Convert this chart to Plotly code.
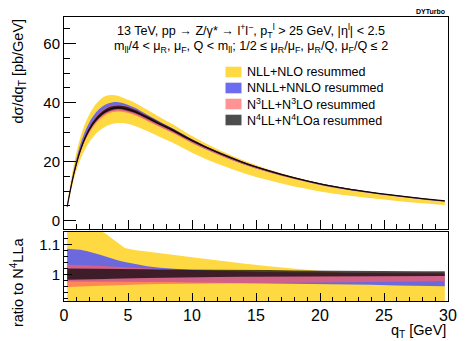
import plotly.graph_objects as go

# bin centres in q_T [GeV]
qt = [0.25, 0.75, 1.25, 1.75, 2.25, 2.75, 3.25, 3.75, 4.25, 4.75, 5.5, 6.5, 7.5, 8.5,
      10, 12, 14, 16, 18, 20, 22, 24, 26, 28, 29.75]

# N4LL+N4LOa central prediction [pb/GeV]
n4ll_central = [4.8, 15.5, 23.5, 29.0, 32.8, 35.4, 37.1, 38.0, 38.3, 38.0, 37.0, 34.9, 32.7, 30.6,
                27.1, 23.1, 19.7, 16.9, 14.5, 12.5, 10.9, 9.6, 8.5, 7.5, 6.7]

# scale-variation envelopes, as ratio to N4LLa central
nll_hi = [1.22, 1.20, 1.185, 1.17, 1.16, 1.15, 1.138, 1.121, 1.104, 1.09, 1.083, 1.077, 1.072, 1.067,
          1.059, 1.048, 1.038, 1.029, 1.020, 1.013, 1.006, 1.0, 0.997, 0.995, 0.993]
nll_lo = [0.90, 0.88, 0.87, 0.865, 0.862, 0.86, 0.86, 0.862, 0.865, 0.868, 0.87, 0.87, 0.868, 0.862,
          0.85, 0.835, 0.822, 0.81, 0.80, 0.795, 0.79, 0.79, 0.79, 0.795, 0.80]
nnll_hi = [1.087, 1.086, 1.084, 1.080, 1.075, 1.068, 1.061, 1.054, 1.048, 1.043, 1.036, 1.029, 1.024, 1.020,
           1.016, 1.013, 1.010, 1.009, 1.008, 1.007, 1.006, 1.005, 1.005, 1.004, 1.004]
nnll_lo = [0.978, 0.978, 0.978, 0.978, 0.978, 0.978, 0.978, 0.978, 0.978, 0.978, 0.977, 0.977, 0.976, 0.976,
           0.975, 0.974, 0.973, 0.973, 0.972, 0.971, 0.969, 0.967, 0.965, 0.963, 0.962]
n3ll_hi = [1.034, 1.034, 1.033, 1.032, 1.031, 1.030, 1.028, 1.026, 1.025, 1.024, 1.022, 1.020, 1.018, 1.016,
           1.014, 1.012, 1.010, 1.009, 1.008, 1.008, 1.008, 1.008, 1.008, 1.008, 1.008]
n3ll_lo = [0.960, 0.960, 0.961, 0.962, 0.963, 0.964, 0.965, 0.966, 0.966, 0.967, 0.968, 0.969, 0.970, 0.970,
           0.971, 0.972, 0.972, 0.973, 0.974, 0.975, 0.976, 0.977, 0.977, 0.978, 0.979]
n4ll_hi = [1.021, 1.021, 1.021, 1.021, 1.021, 1.020, 1.020, 1.020, 1.020, 1.020, 1.019, 1.019, 1.018, 1.018,
           1.018, 1.017, 1.016, 1.016, 1.015, 1.014, 1.014, 1.013, 1.013, 1.012, 1.012]
n4ll_lo = [0.984, 0.984, 0.984, 0.985, 0.985, 0.986, 0.986, 0.987, 0.987, 0.988, 0.989, 0.990, 0.991, 0.991,
           0.992, 0.993, 0.994, 0.994, 0.995, 0.995, 0.995, 0.996, 0.996, 0.996, 0.996]

labels = ["NLL+NLO resummed", "NNLL+NNLO resummed",
          "N<sup>3</sup>LL+N<sup>3</sup>LO resummed", "N<sup>4</sup>LL+N<sup>4</sup>LOa resummed"]
colors = ["rgb(255,217,66)", "rgba(92,92,240,0.9)", "rgba(255,95,95,0.68)", "rgba(0,0,0,0.7)"]
bands = [(nll_lo, nll_hi), (nnll_lo, nnll_hi), (n3ll_lo, n3ll_hi), (n4ll_lo, n4ll_hi)]

FONT = "Liberation Sans, Arial, sans-serif"

fig = go.Figure()

for (lo, hi), col in zip(bands, colors):
    lo_abs = [c * r for c, r in zip(n4ll_central, lo)]
    hi_abs = [c * r for c, r in zip(n4ll_central, hi)]
    # main panel
    fig.add_trace(go.Scatter(x=qt, y=lo_abs, mode="lines", line=dict(width=0, shape="spline"),
                             showlegend=False, hoverinfo="skip", yaxis="y"))
    fig.add_trace(go.Scatter(x=qt, y=hi_abs, mode="lines", line=dict(width=0, shape="spline"),
                             fill="tonexty", fillcolor=col, showlegend=False, hoverinfo="skip", yaxis="y"))
    # ratio panel
    fig.add_trace(go.Scatter(x=qt, y=lo, mode="lines", line=dict(width=0),
                             showlegend=False, hoverinfo="skip", xaxis="x2", yaxis="y2"))
    fig.add_trace(go.Scatter(x=qt, y=hi, mode="lines", line=dict(width=0),
                             fill="tonexty", fillcolor=col, showlegend=False, hoverinfo="skip",
                             xaxis="x2", yaxis="y2"))

fig.add_trace(go.Scatter(x=qt, y=n4ll_central, mode="lines",
                         line=dict(color="rgb(20,5,10)", width=1.2, shape="spline"),
                         showlegend=False, hoverinfo="skip"))

axis_common = dict(showline=True, linecolor="black", linewidth=1, mirror=True,
                   ticks="inside", tickcolor="black", showgrid=False, zeroline=False,
                   tickfont=dict(family=FONT, size=15, color="black"))

# the page body has an 8px margin, so the figure is 8px smaller than the window
fig.update_layout(
    width=464, height=333,
    margin=dict(l=56, r=24, t=9, b=40),
    paper_bgcolor="white", plot_bgcolor="white",
    xaxis=dict(axis_common, range=[0, 30], domain=[0, 1], anchor="y", showticklabels=False,
               dtick=5, ticklen=9, minor=dict(dtick=1, ticks="inside", ticklen=5, tickcolor="black")),
    yaxis=dict(axis_common, range=[-2.8, 69], domain=[0.2535, 1], anchor="x", dtick=20, ticklen=12,
               minor=dict(dtick=5, ticks="inside", ticklen=6, tickcolor="black")),
    xaxis2=dict(axis_common, range=[0, 30], domain=[0, 1], anchor="y2", dtick=5, ticklen=8,
                tickfont=dict(family=FONT, size=16, color="black"),
                minor=dict(dtick=1, ticks="inside", ticklen=4, tickcolor="black")),
    yaxis2=dict(axis_common, range=[0.913, 1.143], domain=[0, 0.243], anchor="x2",
                tickvals=[1.0, 1.1], ticktext=["1", "1.1"], ticklen=8,
                minor=dict(dtick=0.02, ticks="inside", ticklen=4, tickcolor="black")),
)

annos = [
    dict(text="<b>DYTurbo</b>", x=0.997, y=1.018, xanchor="right", size=7),
    dict(text="13 TeV, pp → Z/γ* → l<sup>+</sup>l<sup>−</sup>, p<sub>T</sub><sup>l</sup> > 25 GeV, |η<sup>l</sup>| < 2.5",
         x=0.133, y=0.949, xanchor="left", size=12.6),
    dict(text="m<sub>ll</sub>/4 < μ<sub>R</sub>, μ<sub>F</sub>, Q < m<sub>ll</sub>; 1/2 ≤ μ<sub>R</sub>/μ<sub>F</sub>, μ<sub>R</sub>/Q, μ<sub>F</sub>/Q ≤ 2",
         x=0.125, y=0.895, xanchor="left", size=12.6),
]
for a in annos:
    fig.add_annotation(text=a["text"], x=a["x"], y=a["y"], xref="paper", yref="paper",
                       xanchor=a["xanchor"], yanchor="middle", showarrow=False,
                       font=dict(family=FONT, size=a["size"], color="black"))

# legend drawn by hand to match the layout
legend_y = [72, 88, 104, 120]
for lab, col, py in zip(labels, colors, legend_y):
    yc = 1 - (py - 17) / 284
    fig.add_shape(type="rect", xref="paper", yref="paper",
                  x0=(225.5 - 64) / 384, x1=(241.5 - 64) / 384,
                  y0=yc - 5.3 / 284, y1=yc + 5.3 / 284, fillcolor=col, line=dict(width=0))
    fig.add_annotation(text=lab, x=(245 - 64) / 384, y=yc, xref="paper", yref="paper",
                       xanchor="left", yanchor="middle", showarrow=False,
                       font=dict(family=FONT, size=12.5, color="black"))

# axis titles
fig.add_annotation(text="dσ/dq<sub>T</sub> [pb/GeV]", textangle=-90, x=-46 / 384, y=1.0,
                   xref="paper", yref="paper", xanchor="center", yanchor="top", showarrow=False,
                   font=dict(family=FONT, size=14.5, color="black"))
fig.add_annotation(text="ratio to N<sup>4</sup>LLa", textangle=-90, x=-47 / 384, y=0.232,
                   xref="paper", yref="paper", xanchor="center", yanchor="top", showarrow=False,
                   font=dict(family=FONT, size=14.5, color="black"))
fig.add_annotation(text="q<sub>T</sub> [GeV]", x=1.0, y=-0.104, xref="paper", yref="paper",
                   xanchor="right", yanchor="middle", showarrow=False,
                   font=dict(family=FONT, size=14.5, color="black"))

fig.write_html("out.html")
